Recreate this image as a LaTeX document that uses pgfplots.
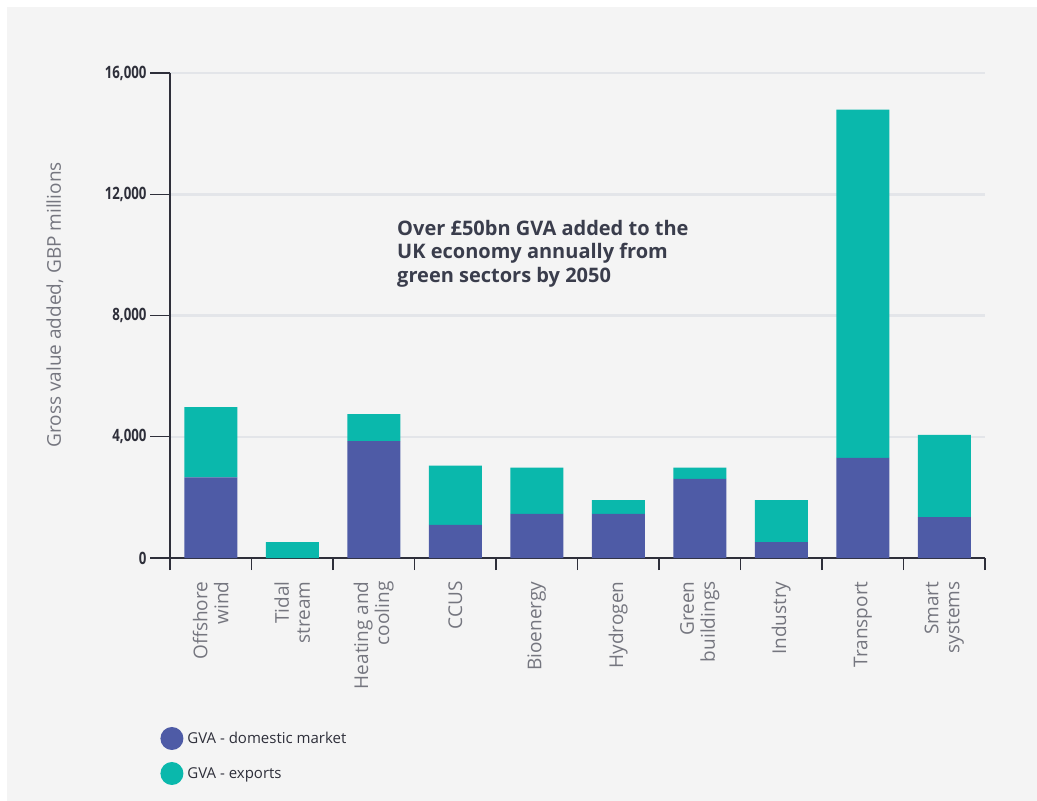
\documentclass[border=0pt]{standalone}
\usepackage{pgfplots}
\pgfplotsset{compat=1.18}
\usepackage{fontspec}
\setmainfont{Open Sans}
\newfontfamily\tickfont[FakeStretch=0.78]{Open Sans}
\definecolor{dom}{HTML}{4E5BA6}
\definecolor{expo}{HTML}{0AB8AC}
\definecolor{panel}{HTML}{F4F4F4}
\definecolor{gridc}{HTML}{E3E5E9}
\definecolor{lab}{HTML}{75767F}
\definecolor{dark}{HTML}{2E2F3A}
\definecolor{ann}{HTML}{3A3D4C}
\begin{document}
\begin{tikzpicture}[x=1pt,y=1pt]
\fill[white] (0,0) rectangle (1037,-801);
\fill[panel] (7,-7) rectangle (1037,-801);
\begin{axis}[
  at={(170pt,-558pt)}, anchor=south west,
  scale only axis, width=815pt, height=485pt,
  xmin=-0.5, xmax=9.5, ymin=0, ymax=16000,
  ybar stacked, bar width=53pt,
  axis lines*=left,
  axis line style={-, draw=dark, line width=1.3pt},
  ytick={0,4000,8000,12000,16000},
  scaled y ticks=false,
  yticklabel={\pgfmathprintnumber[fixed,precision=0,1000 sep={,}]{\tick}},
  ymajorgrids, grid style={draw=gridc, line width=2.5pt},
  tick align=outside,
  major tick length=20pt,
  minor tick length=12pt,
  xtick={0,...,9},
  minor xtick={-0.5,0.5,...,9.5},
  major x tick style={draw=none},
  minor x tick style={draw=dark, line width=1.3pt},
  ytick style={draw=dark, line width=1.3pt},
  xticklabels={{Offshore\\wind},{Tidal\\stream},{Heating and\\cooling},{CCUS},{Bioenergy},{Hydrogen},{Green\\buildings},{Industry},{Transport},{Smart\\systems}},
  xticklabel style={rotate=90, anchor=east, align=right, text=lab, font=\fontsize{19}{21}\selectfont},
  /pgf/number format/assume math mode=true,
  yticklabel style={text=dark, font=\tickfont\bfseries\fontsize{17}{17}\selectfont},
  ylabel={Gross value added, GBP millions},
  every axis y label/.style={at={(axis description cs:0,0.522)}, xshift=-115pt, rotate=90, anchor=center, text=lab, font=\fontsize{19}{21}\selectfont},
  legend style={at={(axis description cs:-0.012,-0.348)}, anchor=north west, draw=none, fill=none, font=\fontsize{15}{17}\selectfont, text=dark, row sep=12pt, inner sep=0pt, nodes={inner sep=4pt}},
  legend cell align=left,
  clip=false,
]
\addplot[fill=dom, draw=none, legend image code/.code={\fill[dom] (4pt,0pt) circle (11.5pt);}] coordinates {(0,2660) (1,0) (2,3860) (3,1090) (4,1460) (5,1460) (6,2610) (7,520) (8,3300) (9,1350)};
\addplot[fill=expo, draw=none, legend image code/.code={\fill[expo] (4pt,0pt) circle (11.5pt);}] coordinates {(0,2320) (1,520) (2,890) (3,1960) (4,1520) (5,450) (6,370) (7,1390) (8,11490) (9,2710)};
\legend{GVA - domestic market, GVA - exports}
\draw[draw=dark, line width=1.3pt] (axis cs:-0.5,0) -- ++(0pt,-10pt);
\end{axis}
\node[anchor=north west, inner sep=0pt, align=left, text=ann, font=\fontsize{20}{23.5}\selectfont\bfseries] at (397,-220) {Over £50bn GVA added to the\\UK economy annually from\\green sectors by 2050};
\end{tikzpicture}
\end{document}
